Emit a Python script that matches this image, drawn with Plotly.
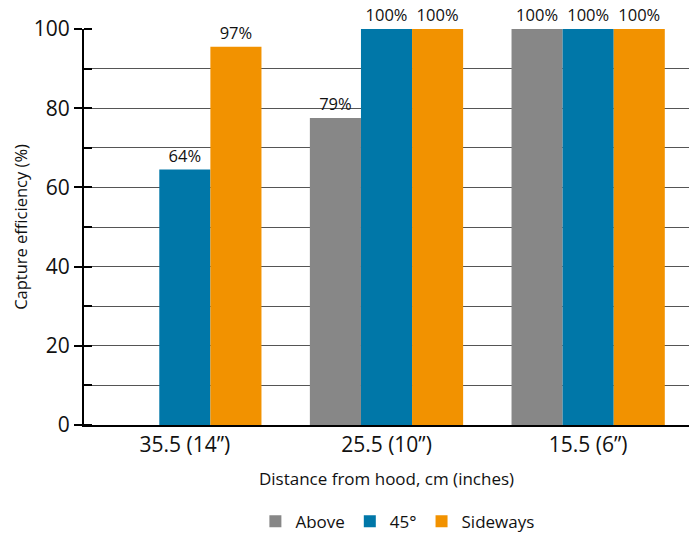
import plotly.graph_objects as go

categories = ["35.5 (14\u201d)", "25.5 (10\u201d)", "15.5 (6\u201d)"]
series_names = ["Above", "45\u00b0", "Sideways"]
above = [None, 77.5, 100]
deg45 = [64.5, 100, 100]
sideways = [95.5, 100, 100]
above_labels = ["", "79%", "100%"]
deg45_labels = ["64%", "100%", "100%"]
sideways_labels = ["97%", "100%", "100%"]
colors = ["#878787", "#0077A8", "#F29200"]
y_title = "Capture efficiency (%)"
x_title = "Distance from hood, cm (inches)"

FONT = "Open Sans, Noto Sans, sans-serif"
fig = go.Figure()
for name, vals, labs, col in zip(series_names, [above, deg45, sideways],
                                 [above_labels, deg45_labels, sideways_labels], colors):
    fig.add_trace(go.Bar(
        x=categories, y=vals, name=name, text=labs,
        textposition="outside", cliponaxis=False,
        textfont=dict(size=16.5, color="#111", family=FONT),
        marker=dict(color=col, line=dict(width=0)),
    ))

fig.update_layout(
    width=689, height=533,
    margin=dict(l=84, r=0, t=29, b=108),
    paper_bgcolor="white", plot_bgcolor="white",
    barmode="group", bargap=0.24, bargroupgap=0,
    font=dict(family=FONT, color="#111"),
    showlegend=True,
    legend=dict(orientation="h", x=0.518, xanchor="center", xref="paper",
                yref="container", y=0.021, yanchor="middle",
                font=dict(size=17, family=FONT), itemwidth=30,
                traceorder="normal"),
    annotations=[dict(text=y_title, textangle=-90, xref="paper", yref="paper",
                      x=-0.106, y=0.5, xanchor="center", yanchor="middle",
                      showarrow=False, font=dict(size=16.5, family=FONT, color="#111"))],
)
fig.update_xaxes(
    automargin=False,
    showline=True, linecolor="black", linewidth=2,
    tickfont=dict(size=21, family=FONT, color="#111"), ticks="",
    title=dict(text=x_title, font=dict(size=17, family=FONT), standoff=16),
)
fig.update_yaxes(
    automargin=False,
    range=[0, 100], dtick=20, showline=True, linecolor="black", linewidth=2,
    ticks="outside", ticklen=8, tickwidth=2, tickcolor="black",
    tickfont=dict(size=21, family=FONT, color="#111"),
    showgrid=True, gridcolor="#555", gridwidth=1, zeroline=False,
    minor=dict(dtick=10, showgrid=True, gridcolor="#555", gridwidth=1,
               ticks="inside", ticklen=8, tickwidth=2, tickcolor="black"),
)

fig.write_html(
    "out.html",
    config={"displayModeBar": False},
    post_script="document.body.style.margin='0';document.body.style.overflow='hidden';",
)
